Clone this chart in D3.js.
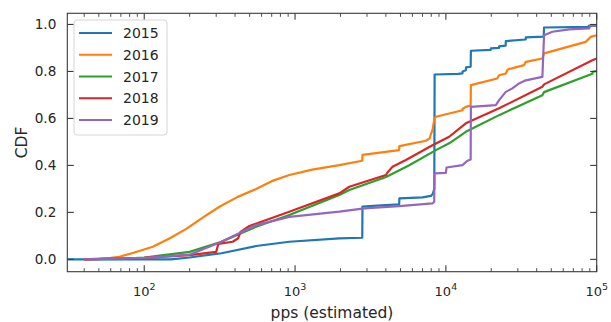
<!DOCTYPE html>
<html>
<head>
<meta charset="utf-8">
<style>
	body { margin: 0; background: #fff; }
	svg { position: absolute; top: 0; left: 0; font-family: "DejaVu Sans", sans-serif; }
	.series { fill: none; stroke-width: 2.2px; stroke-linejoin: round; }
	.tick-label { fill: #262626; font-size: 13.6px; }
</style>
<script src="https://cdnjs.cloudflare.com/ajax/libs/d3/7.8.5/d3.min.js"></script>
</head>
<body>
<svg width="611" height="322"></svg>
<script>
// years shown in the legend
var years = ["2015", "2016", "2017", "2018", "2019"];
var colors = ["#1f77b4", "#ff7f0e", "#2ca02c", "#d62728", "#9467bd"];

// estimated pps (x) and CDF (y)
var pps2015 = [31, 150, 200, 325, 552, 916, 1965, 2790, 2800, 3500, 4900, 4920, 7000, 7960, 8200, 8380, 8420, 12000, 12890, 12900, 13560, 13600, 14600, 14650, 19800, 19870, 22500, 22540, 24900, 24960, 33800, 33880, 44500, 44770, 88000, 89000, 100000];
var cdf2015 = [0, 0, 0.008, 0.026, 0.057, 0.075, 0.089, 0.092, 0.225, 0.229, 0.234, 0.26, 0.264, 0.27, 0.28, 0.3, 0.787, 0.79, 0.792, 0.8, 0.805, 0.817, 0.82, 0.888, 0.892, 0.898, 0.9, 0.907, 0.91, 0.929, 0.936, 0.945, 0.948, 0.987, 0.99, 0.995, 0.995];

var pps2016 = [40, 50, 60, 68.5, 85, 114, 148, 190, 247, 315, 417, 552, 700, 916, 1300, 1965, 2790, 2800, 4900, 4920, 7374, 7800, 8000, 8150, 8400, 8590, 12890, 12900, 13560, 14600, 14650, 21900, 22540, 24960, 25700, 33000, 33880, 43630, 44770, 84700, 91000, 100000];
var cdf2016 = [0, 0.003, 0.007, 0.011, 0.028, 0.054, 0.09, 0.13, 0.18, 0.224, 0.266, 0.3, 0.333, 0.359, 0.382, 0.401, 0.42, 0.445, 0.465, 0.482, 0.505, 0.515, 0.537, 0.55, 0.6, 0.607, 0.635, 0.64, 0.649, 0.655, 0.742, 0.77, 0.784, 0.791, 0.808, 0.827, 0.841, 0.855, 0.877, 0.926, 0.947, 0.954];

var pps2017 = [40, 70, 100, 200, 325, 552, 916, 1965, 2290, 4010, 5716, 8590, 10520, 13560, 22540, 43630, 44770, 93600, 94000, 100000];
var cdf2017 = [0, 0.002, 0.008, 0.032, 0.075, 0.139, 0.189, 0.274, 0.295, 0.351, 0.401, 0.465, 0.494, 0.543, 0.614, 0.699, 0.712, 0.79, 0.798, 0.802];

var pps2018 = [40, 100, 200, 300, 310, 386, 420, 435, 498, 916, 1015, 1965, 2290, 4010, 4100, 4430, 5433, 8150, 10520, 13560, 22540, 43630, 44770, 93600, 100000];
var cdf2018 = [0, 0.006, 0.018, 0.032, 0.066, 0.075, 0.09, 0.117, 0.142, 0.203, 0.213, 0.281, 0.309, 0.359, 0.37, 0.394, 0.423, 0.486, 0.522, 0.579, 0.643, 0.735, 0.745, 0.848, 0.855];

var pps2019 = [40, 100, 200, 325, 552, 916, 1965, 2878, 4907, 8150, 8370, 8400, 10000, 10100, 12890, 13900, 14600, 14650, 21440, 22540, 24960, 27600, 30560, 33880, 43630, 44770, 50830, 65600, 88900, 91000, 100000];
var cdf2019 = [0, 0.006, 0.02, 0.075, 0.146, 0.181, 0.203, 0.217, 0.227, 0.238, 0.245, 0.366, 0.368, 0.391, 0.401, 0.42, 0.425, 0.649, 0.657, 0.678, 0.713, 0.728, 0.749, 0.762, 0.777, 0.954, 0.969, 0.979, 0.983, 0.995, 0.995];

var yTicks = [0, 0.2, 0.4, 0.6, 0.8, 1.0];
var xTicks = [100, 1000, 10000, 100000];
var xLabel = "pps (estimated)", yLabel = "CDF";

var seriesX = [pps2015, pps2016, pps2017, pps2018, pps2019],
	seriesY = [cdf2015, cdf2016, cdf2017, cdf2018, cdf2019];

var svg = d3.select("svg"),
	plotL = 67.3, plotR = 596.7, plotT = 13.3, plotB = 271.7;

var x = d3.scaleLog().domain([30.9, 100000]).range([plotL, plotR]);
var y = d3.scaleLinear().domain([-0.0525, 1.0475]).range([plotB, plotT]);

// minor ticks on the log axis
var minor = [];
for (var e = 1; e < 5; e++) {
	for (var m = 2; m < 10; m++) {
		var v = m * Math.pow(10, e);
		if (v > 30.9 && v < 100000) minor.push(v);
	}
}

svg.append("defs").append("clipPath").attr("id", "plot")
	.append("rect").attr("x", plotL).attr("y", plotT).attr("width", plotR - plotL).attr("height", plotB - plotT);

var plot = svg.append("g").attr("clip-path", "url(#plot)");
var line = d3.line().x(function(d) { return x(d[0]); }).y(function(d) { return y(d[1]); });

seriesX.forEach(function(xs, i) {
	var pts = xs.map(function(v, j) { return [v, seriesY[i][j]]; });
	plot.append("path").attr("class", "series")
		.attr("stroke", colors[i])
		.attr("d", line(pts));
});

// frame
var axisColor = "#3a3a3a";
svg.append("rect").attr("x", plotL).attr("y", plotT).attr("width", plotR - plotL).attr("height", plotB - plotT)
	.attr("fill", "none").attr("stroke", axisColor).attr("stroke-width", 1.1);

var ticks = svg.append("g").attr("stroke", axisColor).attr("stroke-width", 1.1);
xTicks.forEach(function(v) {
	ticks.append("line").attr("x1", x(v)).attr("x2", x(v)).attr("y1", plotB).attr("y2", plotB - 6.5);
	ticks.append("line").attr("x1", x(v)).attr("x2", x(v)).attr("y1", plotT).attr("y2", plotT + 6.5);
});
minor.forEach(function(v) {
	ticks.append("line").attr("x1", x(v)).attr("x2", x(v)).attr("y1", plotB).attr("y2", plotB - 3.5).attr("stroke-width", 0.9);
	ticks.append("line").attr("x1", x(v)).attr("x2", x(v)).attr("y1", plotT).attr("y2", plotT + 3.5).attr("stroke-width", 0.9);
});
yTicks.forEach(function(v) {
	ticks.append("line").attr("x1", plotL).attr("x2", plotL + 6.5).attr("y1", y(v)).attr("y2", y(v));
	ticks.append("line").attr("x1", plotR).attr("x2", plotR - 6.5).attr("y1", y(v)).attr("y2", y(v));
});

// tick labels
svg.append("g").selectAll("text").data(yTicks).join("text")
	.attr("class", "tick-label")
	.attr("x", plotL - 11).attr("y", function(d) { return y(d); })
	.attr("dy", "0.36em").attr("text-anchor", "end")
	.text(d3.format(".1f"));

var xl = svg.append("g").selectAll("text").data(xTicks).join("text")
	.attr("class", "tick-label")
	.attr("x", function(d) { return x(d); }).attr("y", 296)
	.attr("text-anchor", "middle").style("font-size", "13px");
xl.append("tspan").text("10");
xl.append("tspan").attr("dy", -6).style("font-size", "9.5px").text(function(d) { return Math.round(Math.log10(d)); });

svg.append("text").attr("x", (plotL + plotR) / 2).attr("y", 318)
	.attr("text-anchor", "middle").attr("fill", "#262626").style("font-size", "15.5px").text(xLabel);
svg.append("text").attr("transform", "translate(27," + ((plotT + plotB) / 2) + ") rotate(-90)")
	.attr("text-anchor", "middle").attr("fill", "#262626").style("font-size", "15.5px").text(yLabel);

// legend
var lg = svg.append("g");
lg.append("rect").attr("x", 74).attr("y", 20).attr("width", 93).attr("height", 115).attr("rx", 3)
	.attr("fill", "#fff").attr("fill-opacity", 0.8).attr("stroke", "#d6d6d6").attr("stroke-width", 1);
years.forEach(function(yr, i) {
	var ly = 33 + i * 21.75;
	lg.append("line").attr("x1", 79).attr("x2", 112).attr("y1", ly).attr("y2", ly)
		.attr("stroke", colors[i]).attr("stroke-width", 2.2);
	lg.append("text").attr("x", 123).attr("y", ly).attr("dy", "0.36em")
		.attr("fill", "#262626").style("font-size", "14px").text(yr);
});
</script>
</body>
</html>
